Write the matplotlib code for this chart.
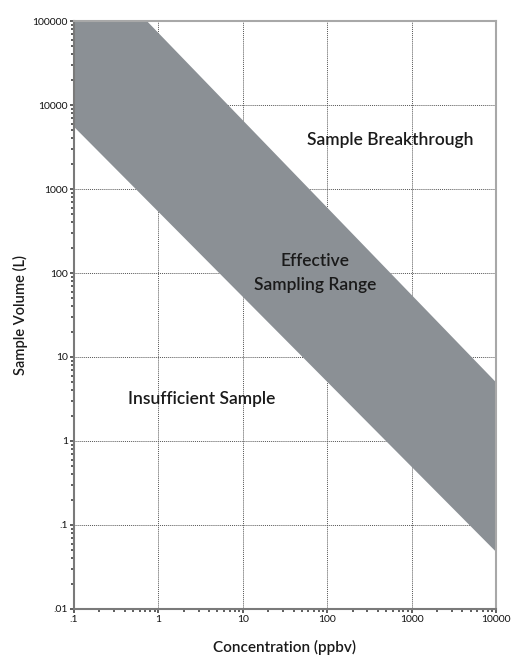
import numpy as np
import matplotlib
matplotlib.use("Agg")
import matplotlib.pyplot as plt
from matplotlib.ticker import FixedLocator, FixedFormatter, LogLocator, NullFormatter

plt.rcParams['font.family'] = ['Lato', 'DejaVu Sans']

# ------------------ Data ------------------
# band edges (straight lines in log-log)
lower_x = [0.1, 10000]
lower_y = [5500, 0.048]
upper_x = [0.73, 10000]
upper_y = [100000, 5.0]

x_ticks = [0.1, 1, 10, 100, 1000, 10000]
x_labels = [".1", "1", "10", "100", "1000", "10000"]
y_ticks = [0.01, 0.1, 1, 10, 100, 1000, 10000, 100000]
y_labels = [".01", ".1", "1", "10", "100", "1000", "10000", "100000"]

regions = ["Sample Breakthrough", "Effective\nSampling Range", "Insufficient Sample"]
region_x = [560, 72, 3.3]
region_y = [3800, 100, 3.2]

BAND = "#8b9095"


def loglin(x, px, py):
    # straight line through two points on log-log axes
    lx, lpx, lpy = np.log10(x), np.log10(px), np.log10(py)
    slope = (lpy[1] - lpy[0]) / (lpx[1] - lpx[0])
    return 10 ** (lpy[0] + (lx - lpx[0]) * slope)


xs = np.logspace(-1, 4, 200)
lo = loglin(xs, lower_x, lower_y)
hi = loglin(xs, upper_x, upper_y)

# ------------------ Plot ------------------
fig = plt.figure(figsize=(5.11, 6.57), dpi=100)
ax = fig.add_axes([0.1448, 0.0731, 0.9706 - 0.1448, 0.968 - 0.0731])

ax.fill_between(xs, lo, hi, color=BAND, lw=0, zorder=1)

ax.set_xscale("log")
ax.set_yscale("log")
ax.set_xlim(0.1, 10000)
ax.set_ylim(0.01, 100000)

ax.xaxis.set_major_locator(FixedLocator(x_ticks))
ax.xaxis.set_major_formatter(FixedFormatter(x_labels))
ax.yaxis.set_major_locator(FixedLocator(y_ticks))
ax.yaxis.set_major_formatter(FixedFormatter(y_labels))
ax.xaxis.set_minor_locator(LogLocator(base=10, subs=np.arange(2, 10)))
ax.yaxis.set_minor_locator(LogLocator(base=10, subs=np.arange(2, 10)))
ax.xaxis.set_minor_formatter(NullFormatter())
ax.yaxis.set_minor_formatter(NullFormatter())

ax.grid(True, which="major", ls=(0, (1, 1)), color="#555555", lw=0.7, zorder=0)
ax.set_axisbelow(True)

ax.tick_params(which="major", length=3, width=1.1, color="#333333",
               labelsize=7.5, labelcolor="#111111", pad=1.5)
ax.tick_params(which="minor", length=2.5, width=1.1, color="#333333")

for s in ["left", "bottom"]:
    ax.spines[s].set_color("#7a7a7a")
    ax.spines[s].set_linewidth(1.5)
for s in ["top", "right"]:
    ax.spines[s].set_color("#a8a8a8")
    ax.spines[s].set_linewidth(1.5)

ax.set_xlabel("Concentration (ppbv)", fontsize=11, fontweight="semibold",
              color="#1a1a1a", labelpad=11)
ax.set_ylabel("Sample Volume (L)", fontsize=10.5, fontweight="semibold",
              color="#1a1a1a", labelpad=3)

for t, x, y in zip(regions, region_x, region_y):
    ax.text(x, y, t, ha="center", va="center", fontsize=12.5,
            fontweight="semibold", color="#1a1a1a", linespacing=1.55, zorder=3)

fig.savefig("out.png", dpi=100)
